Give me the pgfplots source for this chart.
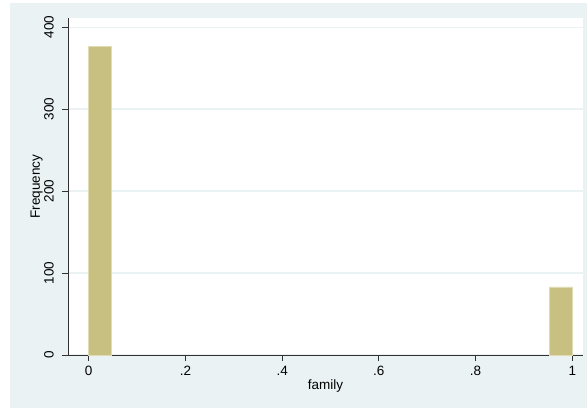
\documentclass[border=0pt]{standalone}
\usepackage{fontspec}
\setmainfont{Liberation Sans}
\usepackage{pgfplots}
\pgfplotsset{compat=1.18}
\definecolor{stbg}{RGB}{234,242,243}
\definecolor{khaki}{RGB}{200,192,128}
\definecolor{khakiline}{RGB}{224,219,178}
\definecolor{axcol}{RGB}{50,50,50}
\begin{document}
\begin{tikzpicture}[x=1pt,y=1pt]
\fill[white] (-68,-53) rectangle (519,355);
\fill[stbg] (-58,-53) rectangle (519,352);
\begin{axis}[
  at={(0,0)}, anchor=south west,
  scale only axis, width=515pt, height=336.5pt,
  xmin=-0.0428, xmax=1.0221, ymin=0, ymax=410.5,
  axis background/.style={fill=white},
  axis x line*=bottom, axis y line*=left,
  axis line style={axcol, line width=0.9pt, -},
  xtick={0,0.2,0.4,0.6,0.8,1}, xticklabels={0,.2,.4,.6,.8,1},
  ytick={0,100,200,300,400},
  tick align=outside, major tick length=6pt,
  tick style={axcol, line width=0.9pt},
  ymajorgrids, grid style={stbg, line width=1.2pt},
  /pgf/number format/assume math mode=true,
  tick label style={font=\fontsize{13.5}{15}\selectfont},
  xticklabel style={inner ysep=5pt},
  yticklabel style={rotate=90, anchor=south, inner ysep=8pt},
  label style={font=\fontsize{13.5}{15}\selectfont},
  xlabel={family},
  xlabel style={at={(axis description cs:0.5,0)}, anchor=base, yshift=-34pt},
  ylabel={Frequency},
  ylabel style={at={(axis description cs:-0.0544,0.5)}, rotate=0, anchor=base},
  clip=false,
]
\addplot[ybar, bar width=0.047619, fill=khaki, draw=khakiline, line width=0.8pt]
  coordinates {(0.0238095,376) (0.9761905,83)};
\end{axis}
\end{tikzpicture}
\end{document}
